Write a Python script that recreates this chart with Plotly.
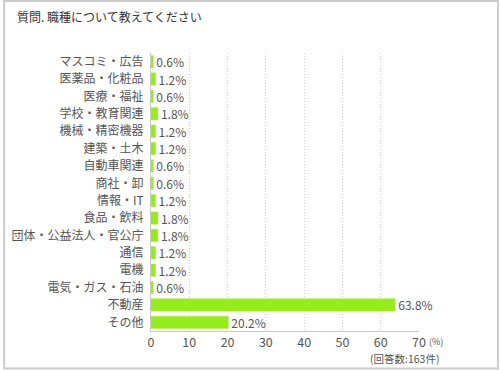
import plotly.graph_objects as go

categories = ["マスコミ・広告", "医薬品・化粧品", "医療・福祉", "学校・教育関連", "機械・精密機器",
              "建築・土木", "自動車関連", "商社・卸", "情報・IT", "食品・飲料",
              "団体・公益法人・官公庁", "通信", "電機", "電気・ガス・石油", "不動産", "その他"]
values = [0.6, 1.2, 0.6, 1.8, 1.2, 1.2, 0.6, 0.6, 1.2, 1.8, 1.8, 1.2, 1.2, 0.6, 63.8, 20.2]
tick_vals = [0, 10, 20, 30, 40, 50, 60, 70]
title_text = "質問. 職種について教えてください"
unit_text = "(%)"
count_text = "(回答数:163件)"

FONT = "Noto Sans CJK JP, Noto Sans, sans-serif"
L, R, T, B = 149, 81, 53, 39
W, H = 500, 370
pw, ph = W - L - R, H - T - B

fig = go.Figure(go.Bar(
    x=values, y=categories, orientation="h",
    marker=dict(color="#95eb1b", line=dict(color="#a8ef45", width=0.5)),
    text=[f"{v}%" for v in values], textposition="outside",
    textfont=dict(size=12, color="#555", family=FONT),
    constraintext="none", cliponaxis=False,
))

fig.update_layout(
    width=W, height=H, margin=dict(l=L, r=R, t=T, b=B),
    paper_bgcolor="white", plot_bgcolor="white",
    bargap=0.29, showlegend=False, uniformtext=dict(mode=False),
    font=dict(family=FONT, color="#555"),
    xaxis=dict(range=[0, 70], tickvals=tick_vals, showgrid=True, gridcolor="#cfcfcf",
               griddash="1px,2px", gridwidth=1, zeroline=False, showline=True, linecolor="#c8c8c8",
               tickfont=dict(size=12.5, color="#555", family=FONT), ticks="", fixedrange=True),
    yaxis=dict(autorange="reversed", showline=True, linecolor="#c8c8c8", showgrid=False,
               tickfont=dict(size=12, color="#555", family=FONT), ticks="", ticklabelstandoff=4),
    annotations=[
        dict(text=title_text, xref="paper", yref="paper", x=(12 - L) / pw, y=(H - B - 17) / ph,
             xanchor="left", yanchor="middle", showarrow=False,
             font=dict(size=12, color="#333", family=FONT)),
        dict(text=unit_text, xref="paper", yref="paper", x=(427 - L) / pw, y=(H - B - 341) / ph,
             xanchor="left", yanchor="middle", showarrow=False,
             font=dict(size=9, color="#555", family=FONT)),
        dict(text=count_text, xref="paper", yref="paper", x=(442 - L) / pw, y=(H - B - 358) / ph,
             xanchor="right", yanchor="middle", showarrow=False,
             font=dict(size=10.5, color="#555", family=FONT)),
    ],
    shapes=[dict(type="rect", xref="paper", yref="paper",
                 x0=(1 - L) / pw, x1=(498.5 - L) / pw,
                 y0=(H - B - 368.5) / ph, y1=(H - B - 1) / ph,
                 line=dict(color="#cccccc", width=2), fillcolor="rgba(0,0,0,0)", layer="below")],
)

fig.write_html("out.html")
